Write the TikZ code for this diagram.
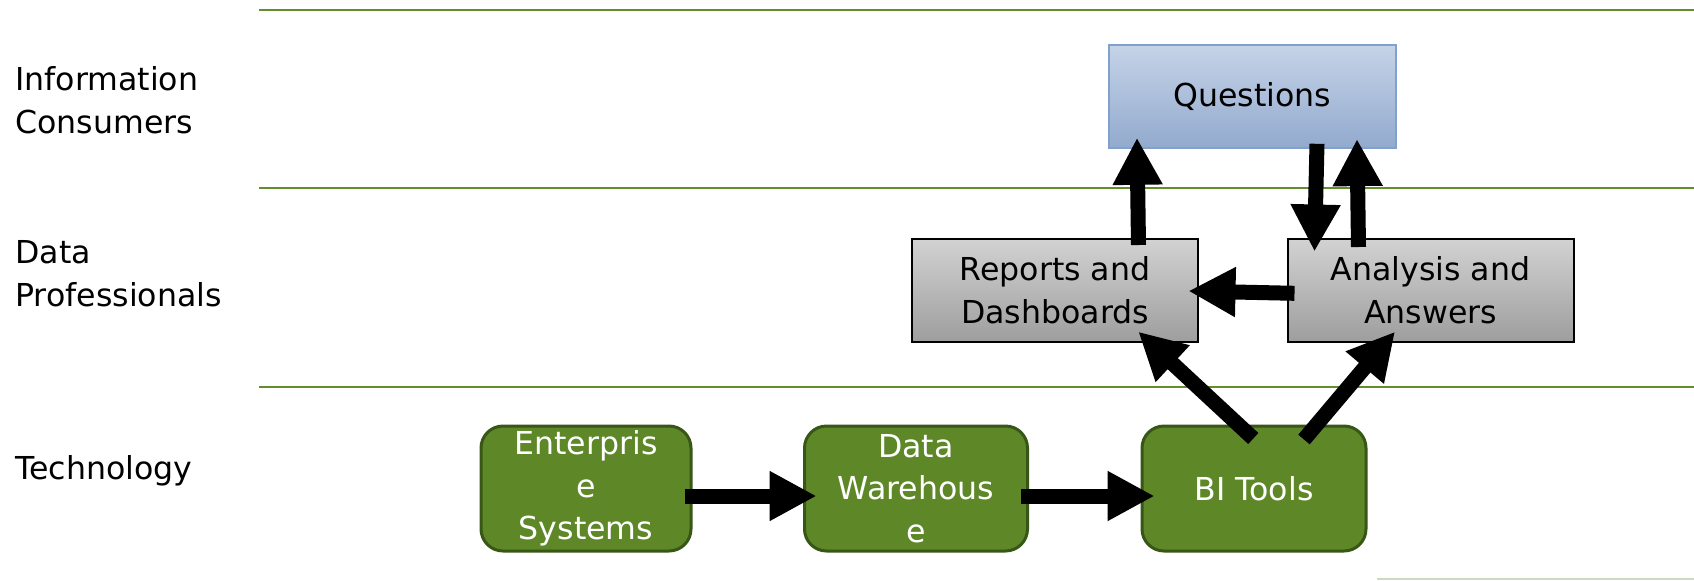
\documentclass[tikz,border=0pt]{standalone}
\usepackage{fontspec}
\setmainfont{DejaVu Sans}
\usetikzlibrary{arrows.meta,calc}
\definecolor{lanegreen}{RGB}{98,142,46}
\definecolor{boxgreen}{RGB}{94,136,40}
\definecolor{boxgreenedge}{RGB}{56,86,22}
\definecolor{graytop}{RGB}{210,210,210}
\definecolor{graybot}{RGB}{158,158,158}
\definecolor{bluetop}{RGB}{198,211,231}
\definecolor{bluebot}{RGB}{146,170,206}
\definecolor{blueedge}{RGB}{128,160,206}
\definecolor{fadeline}{RGB}{205,218,190}
\begin{document}
\begin{tikzpicture}[x=0.5pt,y=-0.5pt,
  txt/.style={font=\fontsize{15.8pt}{21.3pt}\selectfont, align=center, inner sep=0pt},
  lbl/.style={font=\fontsize{15.8pt}{21.5pt}\selectfont, align=left, inner sep=0pt, anchor=base west},
  lane/.style={draw=lanegreen, line width=1.1pt},
  techbox/.style={txt, rectangle, rounded corners=11pt, fill=boxgreen, draw=boxgreenedge, line width=1.5pt, text=white, minimum width=#1, minimum height=62.5pt},
  techbox/.default=105pt,
  probox/.style={txt, rectangle, draw=black, line width=1pt, top color=graytop, bottom color=graybot, minimum width=143pt, minimum height=51.5pt},
  qbox/.style={txt, rectangle, draw=blueedge, line width=0.8pt, top color=bluetop, bottom color=bluebot, minimum width=143.5pt, minimum height=51.5pt},
  flow/.style={line width=7.5pt, -{Triangle[length=23.5pt,width=23.5pt]}}
]
\useasboundingbox (0,0) rectangle (1694,580);

% lanes
\draw[lane] (259,10) -- (1694,10);
\draw[lane] (259,188) -- (1694,188);
\draw[lane] (259,387) -- (1694,387);
\draw[draw=fadeline, line width=1pt] (1377,578.5) -- (1694,578.5);

% lane labels
\node[lbl] (lic) at (15,133) {Information\\Consumers};
\node[lbl] (ldp) at (15,306) {Data\\Professionals};
\node[lbl] (lte) at (15,479) {Technology};

% boxes
\node[qbox] (q) at (1252.5,96.5) {\raisebox{-1.6pt}{Questions}};
\node[probox] (rep) at (1055,290) {Reports and\\Dashboards};
\node[probox] (ana) at (1430.5,290) {Analysis and\\Answers};
\node[techbox] (ent) at (586,488.5) {Enterpris\\e\\Systems};
\node[techbox=111.5pt] (dw) at (916,488.5) {Data\\Warehous\\e};
\node[techbox=112pt] (bi) at (1254,488.5) {BI Tools};

% arrows
\draw[flow] ($(rep.north)+(83.5,7.5)$) -- ($(q.south)+(-115.5,-11)$);
\draw[flow] ($(q.south)+(64.5,-5)$) -- ($(ana.north)+(-116,14)$);
\draw[flow] ($(ana.north)+(-72,9.5)$) -- ($(q.south)+(104.5,-9.7)$);
\draw[flow] ($(ana.west)+(8,3.3)$) -- ($(rep.east)+(-10.5,1)$);
\draw[flow] ($(bi.north)+(-0.7,14)$) -- ($(rep.south)+(83.3,-10.8)$);
\draw[flow] ($(bi.north)+(50,15)$) -- ($(ana.south)+(-35.5,-10.8)$);
\draw[flow] ($(ent.east)+(-8,7.5)$) -- ($(dw.west)+(13.5,7.5)$);
\draw[flow] ($(dw.east)+(-8,7.5)$) -- ($(bi.west)+(14,7.5)$);
\end{tikzpicture}
\end{document}
